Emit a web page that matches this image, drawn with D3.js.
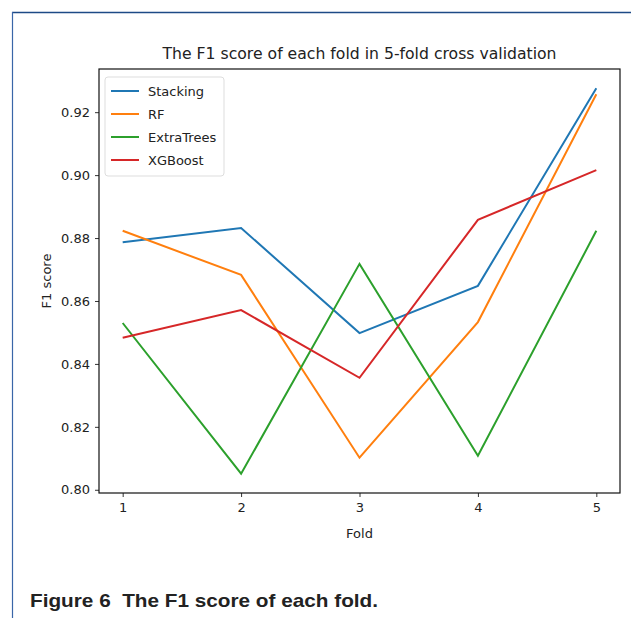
<!DOCTYPE html>
<html>
<head>
<meta charset="utf-8">
<script src="https://cdn.jsdelivr.net/npm/d3@7"></script>
<style>
  html, body { margin: 0; padding: 0; background: #fff; }
  svg { display: block; }
  text { font-family: "DejaVu Sans", sans-serif; fill: #222; }
</style>
</head>
<body>
<svg id="chart" width="631" height="618"></svg>
<script>
// F1 score per fold, 5-fold cross validation
const folds = [1, 2, 3, 4, 5];
const stacking   = [0.8787, 0.8832, 0.8498, 0.8648, 0.9276];
const rf         = [0.8823, 0.8683, 0.8102, 0.8533, 0.9257];
const extraTrees = [0.8530, 0.8051, 0.8718, 0.8108, 0.8823];
const xgboost    = [0.8483, 0.8571, 0.8356, 0.8858, 0.9016];
const seriesNames = ["Stacking", "RF", "ExtraTrees", "XGBoost"];
const yTicks = [0.80, 0.82, 0.84, 0.86, 0.88, 0.90, 0.92];

const series = [
  { name: seriesNames[0], values: stacking,   color: "#1f77b4" },
  { name: seriesNames[1], values: rf,         color: "#ff7f0e" },
  { name: seriesNames[2], values: extraTrees, color: "#2ca02c" },
  { name: seriesNames[3], values: xgboost,    color: "#d62728" }
];

const svg = d3.select("#chart");

// page frame
svg.append("line").attr("x1", 12).attr("x2", 631).attr("y1", 12.5).attr("y2", 12.5)
  .attr("stroke", "#1d4a86").attr("stroke-width", 1.5);
svg.append("line").attr("x1", 12.5).attr("x2", 12.5).attr("y1", 12).attr("y2", 618)
  .attr("stroke", "#3a66a8").attr("stroke-width", 1.2);

const plot = { left: 99, right: 620, top: 69, bottom: 493 };

// matplotlib-style 5% margins around the data
const allVals = series.flatMap(s => s.values);
const yMin = d3.min(allVals), yMax = d3.max(allVals);
const pad = (yMax - yMin) * 0.05;

const x = d3.scaleLinear().domain([0.8, 5.2]).range([plot.left, plot.right]);
const y = d3.scaleLinear().domain([yMin - pad, yMax + pad]).range([plot.bottom, plot.top]);

// axes
const xAxis = svg.append("g")
  .attr("transform", `translate(0,${plot.bottom})`)
  .call(d3.axisBottom(x).tickValues(folds).tickFormat(d3.format("d")).tickSize(4).tickPadding(6));
const yAxis = svg.append("g")
  .attr("transform", `translate(${plot.left},0)`)
  .call(d3.axisLeft(y).tickValues(yTicks).tickFormat(d3.format(".2f")).tickSize(4).tickPadding(5));
[xAxis, yAxis].forEach(g => {
  g.select(".domain").remove();
  g.selectAll(".tick line").attr("stroke", "#333");
  g.selectAll(".tick text").style("font-size", "13px").style("font-family", "DejaVu Sans, sans-serif").attr("fill", "#222");
});

// lines
const line = d3.line().x((d, i) => x(folds[i])).y(d => y(d));
svg.append("g").selectAll("path").data(series).join("path")
  .attr("d", d => line(d.values))
  .attr("fill", "none")
  .attr("stroke", d => d.color)
  .attr("stroke-width", 2)
  .attr("stroke-linejoin", "miter");

// axes frame
svg.append("rect")
  .attr("x", plot.left).attr("y", plot.top)
  .attr("width", plot.right - plot.left).attr("height", plot.bottom - plot.top)
  .attr("fill", "none").attr("stroke", "#111").attr("stroke-width", 1.2);

// legend
const lg = svg.append("g").attr("transform", "translate(105,77)");
lg.append("rect").attr("width", 119).attr("height", 99).attr("rx", 3)
  .attr("fill", "#fff").attr("fill-opacity", 0.8).attr("stroke", "#ddd");
series.forEach((s, i) => {
  const yy = 14 + i * 23;
  lg.append("line").attr("x1", 6).attr("x2", 34).attr("y1", yy).attr("y2", yy)
    .attr("stroke", s.color).attr("stroke-width", 2);
  lg.append("text").attr("x", 43).attr("y", yy).attr("dy", "0.35em")
    .style("font-size", "13px").text(s.name);
});

// titles
svg.append("text").attr("x", (plot.left + plot.right) / 2).attr("y", 59)
  .attr("text-anchor", "middle").style("font-size", "15.5px")
  .attr("textLength", 394).attr("lengthAdjust", "spacingAndGlyphs")
  .text("The F1 score of each fold in 5-fold cross validation");
svg.append("text").attr("x", (plot.left + plot.right) / 2).attr("y", 538)
  .attr("text-anchor", "middle").style("font-size", "13px").text("Fold");
svg.append("text")
  .attr("transform", `translate(51,${(plot.top + plot.bottom) / 2}) rotate(-90)`)
  .attr("text-anchor", "middle").style("font-size", "13px").text("F1 score");

// caption
svg.append("text").attr("x", 30).attr("y", 607)
  .style("font-family", "Liberation Sans, Arial, sans-serif")
  .style("font-weight", "bold").style("font-size", "19px").style("white-space", "pre")
  .attr("fill", "#111")
  .attr("textLength", 348).attr("lengthAdjust", "spacingAndGlyphs")
  .text("Figure 6  The F1 score of each fold.");
</script>
</body>
</html>
